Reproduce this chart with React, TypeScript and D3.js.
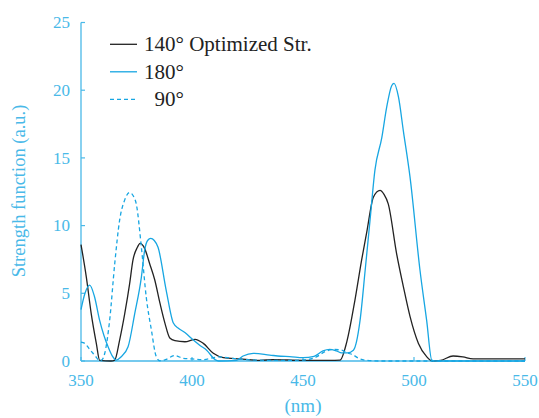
import React from "react";
import * as d3 from "d3";

// wavelength (nm) and strength (a.u.)
const nm140 = [350, 352.4, 354.6, 356.9, 358.4, 363.5, 365.2, 367.4, 369.7, 371.9, 373.4, 375.4, 376.6, 378.7, 380.9, 383.2, 385.6, 387.8, 390, 392.3, 396.8, 401.4, 405.1, 409.6, 414.1, 421.6, 430.6, 436.5, 450, 462, 466.7, 469.7, 473.4, 476.4, 478.7, 481.7, 484.7, 486.5, 488.4, 492.2, 495.2, 498.2, 502, 505.7, 508.3, 512, 517.6, 522, 526.6, 550];
const val140 = [8.6, 6.2, 3.5, 1.3, 0.05, 0.0, 0.07, 1.55, 3.5, 5.7, 7.45, 8.4, 8.68, 8.3, 7.2, 6.0, 4.25, 2.8, 1.7, 1.5, 1.42, 1.6, 1.3, 0.57, 0.25, 0.15, 0.05, 0.1, 0.05, 0.05, 0.07, 1.4, 4.5, 7.45, 9.5, 12.1, 12.6, 12.3, 11.6, 7.9, 5.5, 3.3, 1.3, 0.32, 0.0, 0.05, 0.37, 0.3, 0.15, 0.15];

const nm180 = [350, 351.8, 353.9, 356, 358.4, 360.3, 362.2, 364, 365.9, 368, 371.2, 374.2, 377.2, 378.7, 380, 381.4, 383, 384.7, 388.4, 391.6, 394, 396.8, 400.6, 403.6, 406.6, 410.4, 412, 420, 423, 427.6, 435, 440, 444, 450, 455, 459, 462, 465, 467.4, 470, 472.7, 475.7, 478, 480.2, 482.4, 485.5, 487.7, 490, 491, 493, 495.2, 498.2, 502.7, 505.7, 508, 510, 550];
const val180 = [3.8, 5.0, 5.6, 4.8, 3.0, 1.9, 1.05, 0.4, 0.07, 0.3, 1.05, 3.5, 6.2, 8.2, 8.9, 9.05, 8.9, 8.4, 5.2, 2.8, 2.4, 2.1, 1.55, 1.15, 0.8, 0.1, 0.0, 0.05, 0.37, 0.57, 0.44, 0.35, 0.33, 0.25, 0.35, 0.75, 0.86, 0.75, 0.6, 0.6, 0.8, 3.0, 6.7, 10.4, 14.1, 16.5, 18.75, 20.35, 20.5, 19.5, 17.0, 13.6, 6.7, 3.0, 0.07, 0, 0];

const nm90 = [350, 351.7, 353.5, 355.4, 357, 358.4, 359.5, 360.7, 362.9, 365.2, 367.4, 369.7, 371.9, 373.5, 374.9, 377.2, 379.4, 381.7, 383.9, 385.5, 388, 392.3, 396, 400, 405, 412, 418, 425, 435, 445, 452, 456, 460, 464, 467.4, 470, 472.7, 475, 478.7, 485, 550];
const val90 = [1.4, 1.3, 0.95, 0.57, 0.25, 0.02, 0.1, 0.57, 3.0, 7.2, 10.4, 11.9, 12.44, 12.2, 11.6, 8.4, 4.7, 2.3, 0.32, 0.02, 0.1, 0.4, 0.2, 0.15, 0.1, 0.3, 0.2, 0.1, 0.05, 0.05, 0.1, 0.3, 0.7, 0.85, 0.8, 0.6, 0.44, 0.2, 0.05, 0, 0];

const xTicks = [350, 400, 450, 500, 550];
const yTicks = [0, 5, 10, 15, 20, 25];
const legendLabels = ["140\u00b0 Optimized Str.", "180\u00b0", "\u00a0\u00a090\u00b0"];

const cyan = "#17a6e2";
const axisCol = "#49b9e8";
const font = "'Liberation Serif', 'Times New Roman', serif";

export default function App() {
  const width = 539;
  const height = 418;

  const x = d3.scaleLinear().domain([350, 550]).range([81, 525]);
  const y = d3.scaleLinear().domain([0, 25]).range([361, 22.5]);

  const line = d3
    .line<[number, number]>()
    .x((d) => x(d[0]))
    .y((d) => y(d[1]))
    .curve(d3.curveMonotoneX);

  const zip = (a: number[], b: number[]) => a.map((v, i) => [v, b[i]] as [number, number]);

  const series = [
    { key: "140", d: line(zip(nm140, val140)), stroke: "#222", dash: null },
    { key: "180", d: line(zip(nm180, val180)), stroke: cyan, dash: null },
    { key: "90", d: line(zip(nm90, val90)), stroke: cyan, dash: "4,3" },
  ];

  return (
    <svg
      width={width}
      height={height}
      style={{ position: "absolute", left: 0, top: 0, background: "#fff" }}
      fontFamily={font}
    >
      {/* axes */}
      <line x1={x(350)} x2={x(350)} y1={y(25)} y2={y(0)} stroke={axisCol} strokeWidth={1.3} />
      <line x1={x(350)} x2={x(550)} y1={y(0)} y2={y(0)} stroke={axisCol} strokeWidth={1.3} />
      {yTicks.map((t) => (
        <g key={"y" + t}>
          <line x1={x(350)} x2={x(350) + 4} y1={y(t)} y2={y(t)} stroke={axisCol} strokeWidth={1.2} />
          <text x={70} y={y(t)} dy="0.33em" textAnchor="end" fontSize={17} fill={axisCol}>
            {t}
          </text>
        </g>
      ))}
      {xTicks.map((t) => (
        <g key={"x" + t}>
          <line x1={x(t)} x2={x(t)} y1={y(0)} y2={y(0) - 4} stroke={axisCol} strokeWidth={1.2} />
          <text x={x(t)} y={386} textAnchor="middle" fontSize={17} fill={axisCol}>
            {t}
          </text>
        </g>
      ))}
      <text
        transform={`translate(25,${191}) rotate(-90)`}
        textAnchor="middle"
        fontSize={18.5}
        fill={axisCol}
      >
        Strength function (a.u.)
      </text>
      <text x={303} y={412} textAnchor="middle" fontSize={19} fill={axisCol}>
        (nm)
      </text>

      {/* curves */}
      {series.map((s) => (
        <path
          key={s.key}
          d={s.d || ""}
          fill="none"
          stroke={s.stroke}
          strokeWidth={1.3}
          strokeDasharray={s.dash || undefined}
        />
      ))}

      {/* legend */}
      {series.map((s, i) => (
        <g key={"lg" + s.key} transform={`translate(110,${44.3 + i * 27.5})`}>
          <line x1={0} x2={27} y1={0} y2={0} stroke={s.stroke} strokeWidth={1.3} strokeDasharray={s.dash || undefined} />
          <text x={34} y={0} dy="0.33em" fontSize={21} fill="#222">
            {legendLabels[i]}
          </text>
        </g>
      ))}
    </svg>
  );
}
